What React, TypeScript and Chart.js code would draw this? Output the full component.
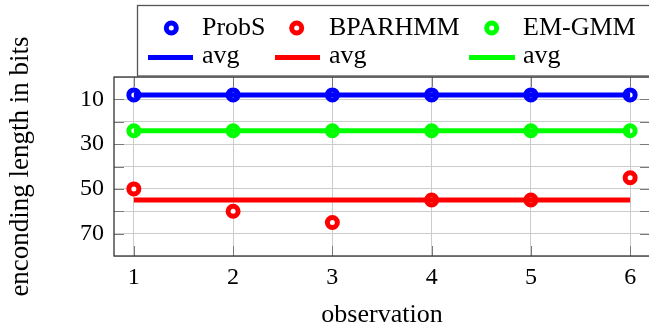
import React, { useEffect, useRef } from 'react';
import { Chart, registerables } from 'chart.js';

Chart.register(...registerables);

// ---- data ----
const observations = [1, 2, 3, 4, 5, 6];
const probS = [8, 8, 8, 8, 8, 8];
const bparhmm = [50, 60, 65, 55, 55, 45];
const emgmm = [24, 24, 24, 24, 24, 24];
const avgProbS = 8;
const avgBparhmm = 55;
const avgEmgmm = 24;
const yTickLabels = [10, 30, 50, 70];
const seriesNames = ['ProbS', 'BPARHMM', 'EM-GMM'];
const avgNames = ['avg', 'avg', 'avg'];
const colors = ['#0000ff', '#ff0000', '#00ff00'];

const SERIF = '"Liberation Serif", "Times New Roman", serif';

const toPts = (vals: number[]) => observations.map((x, i) => ({ x, y: vals[i] }));
const avgLine = (v: number) => [
  { x: observations[0], y: v },
  { x: observations[observations.length - 1], y: v },
];

const framePlugin = {
  id: 'frame',
  beforeDatasetsDraw(chart: any) {
    const { ctx, chartArea } = chart;
    const { left, right, top, bottom } = chartArea;
    const xs = chart.scales.x;
    const ys = chart.scales.y;
    const tl = 10;
    ctx.save();
    ctx.strokeStyle = '#7a7a7a';
    ctx.lineWidth = 1;
    ys.ticks.forEach((t: any) => {
      if (t.value <= ys.min || t.value >= ys.max) return;
      const y = Math.round(ys.getPixelForValue(t.value)) + 0.5;
      ctx.beginPath();
      ctx.moveTo(left, y);
      ctx.lineTo(left + tl, y);
      ctx.moveTo(right, y);
      ctx.lineTo(right - tl, y);
      ctx.stroke();
    });
    xs.ticks.forEach((t: any) => {
      const x = Math.round(xs.getPixelForValue(t.value)) + 0.5;
      ctx.beginPath();
      ctx.moveTo(x, bottom);
      ctx.lineTo(x, bottom - tl);
      ctx.moveTo(x, top);
      ctx.lineTo(x, top + tl);
      ctx.stroke();
    });
    ctx.strokeStyle = '#333333';
    ctx.lineWidth = 1.3;
    ctx.strokeRect(left, top, right - left, bottom - top);
    ctx.restore();
  },
};

const legendPlugin = {
  id: 'customLegend',
  afterDraw(chart: any) {
    const { ctx } = chart;
    ctx.save();
    ctx.fillStyle = '#ffffff';
    ctx.fillRect(137.5, 5.5, 600, 70.5);
    ctx.strokeStyle = '#555555';
    ctx.lineWidth = 1.3;
    ctx.strokeRect(137.5, 5.5, 600, 70.5);

    const markerX = [171.3, 296.7, 491.7];
    const textX = [202, 329, 523];
    const lineX = [
      [148, 193],
      [275, 320],
      [469, 515],
    ];
    ctx.font = `26px ${SERIF}`;
    ctx.textBaseline = 'alphabetic';
    ctx.textAlign = 'left';
    for (let i = 0; i < 3; i++) {
      ctx.beginPath();
      ctx.arc(markerX[i], 28, 5, 0, Math.PI * 2);
      ctx.fillStyle = '#ffffff';
      ctx.fill();
      ctx.lineWidth = 5;
      ctx.strokeStyle = colors[i];
      ctx.stroke();
      ctx.fillStyle = '#000000';
      ctx.fillText(seriesNames[i], textX[i], 35);

      ctx.beginPath();
      ctx.moveTo(lineX[i][0], 57.5);
      ctx.lineTo(lineX[i][1], 57.5);
      ctx.lineWidth = 5;
      ctx.strokeStyle = colors[i];
      ctx.stroke();
      ctx.fillStyle = '#000000';
      ctx.fillText(avgNames[i], textX[i], 63);
    }
    ctx.restore();
  },
};

export default function App() {
  const ref = useRef<HTMLCanvasElement | null>(null);

  useEffect(() => {
    document.body.style.margin = '0';
    if (!ref.current) return;
    const pointDs = (label: string, vals: number[], color: string) => ({
      label,
      data: toPts(vals),
      showLine: false,
      pointRadius: 5,
      pointHoverRadius: 5,
      pointBorderWidth: 5,
      pointBorderColor: color,
      pointBackgroundColor: '#ffffff',
      borderColor: color,
      backgroundColor: '#ffffff',
      order: 2,
    });
    const lineDs = (label: string, v: number, color: string) => ({
      label,
      data: avgLine(v),
      showLine: true,
      borderColor: color,
      borderWidth: 5,
      pointRadius: 0,
      pointHoverRadius: 0,
      borderCapStyle: 'butt',
      order: 1,
    });
    const chart = new Chart(ref.current, {
      type: 'scatter',
      data: {
        datasets: [
          lineDs('avg ' + seriesNames[0], avgProbS, colors[0]),
          lineDs('avg ' + seriesNames[1], avgBparhmm, colors[1]),
          lineDs('avg ' + seriesNames[2], avgEmgmm, colors[2]),
          pointDs(seriesNames[0], probS, colors[0]),
          pointDs(seriesNames[1], bparhmm, colors[1]),
          pointDs(seriesNames[2], emgmm, colors[2]),
        ] as any,
      },
      options: {
        responsive: false,
        animation: false,
        devicePixelRatio: 1,
        layout: { padding: { top: 77, right: 8, left: 0, bottom: 0 } },
        plugins: {
          legend: { display: false },
          tooltip: { enabled: false },
        },
        scales: {
          x: {
            type: 'linear',
            min: 0.8,
            max: 6.2,
            afterFit: (s: any) => {
              s.height = 74;
            },
            grid: { color: '#cccccc', lineWidth: 1, drawTicks: false },
            border: { display: false },
            ticks: {
              stepSize: 1,
              includeBounds: false,
              autoSkip: false,
              maxRotation: 0,
              padding: 7,
              color: '#000000',
              font: { family: SERIF, size: 24 },
              callback: (v: any) => (observations.includes(Number(v)) ? String(v) : ''),
            },
            title: {
              display: true,
              text: 'observation',
              color: '#000000',
              font: { family: SERIF, size: 26, lineHeight: 1 },
              padding: { top: 0, bottom: 2 },
            },
          },
          y: {
            type: 'linear',
            min: 0,
            max: 80,
            reverse: true,
            afterFit: (s: any) => {
              s.width = 114;
            },
            grid: { color: '#cccccc', lineWidth: 1, drawTicks: false },
            border: { display: false },
            ticks: {
              stepSize: 10,
              autoSkip: false,
              padding: 10,
              color: '#000000',
              font: { family: SERIF, size: 24 },
              callback: (v: any) => (yTickLabels.includes(Number(v)) ? String(v) : ''),
            },
            title: {
              display: true,
              text: 'enconding length in bits',
              color: '#000000',
              font: { family: SERIF, size: 27, lineHeight: 1 },
              padding: { top: 7, bottom: 0 },
            },
          },
        },
      },
      plugins: [framePlugin, legendPlugin],
    });
    return () => chart.destroy();
  }, []);

  return (
    <div style={{ width: 649, height: 330, overflow: 'hidden' }}>
      <canvas ref={ref} width={660} height={330} style={{ display: 'block' }} />
    </div>
  );
}
